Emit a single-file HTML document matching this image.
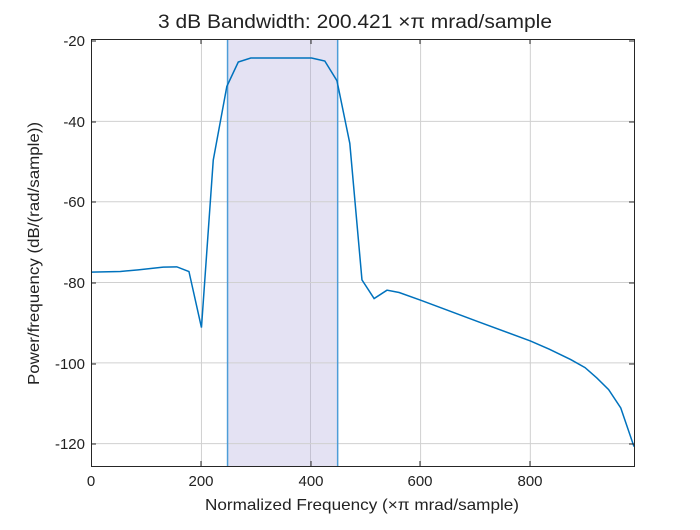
<!DOCTYPE html>
<html><head><style>
body{margin:0;background:#fff;}
svg text{font-family:"Liberation Sans",sans-serif;fill:#222;}
</style></head><body>
<svg width="700" height="525" xmlns="http://www.w3.org/2000/svg">
<rect width="700" height="525" fill="#fff"/>
<svg x="91" y="39" width="543" height="427" viewBox="18 30 1519 1280" preserveAspectRatio="none">
<rect x="400" y="30" width="308" height="1280" fill="#e4e2f3"/>
<g stroke="#d0d0d0" stroke-width="1" vector-effect="non-scaling-stroke">
<line x1="327" y1="30" x2="327" y2="1310" vector-effect="non-scaling-stroke"/>
<line x1="632" y1="30" x2="632" y2="1310" vector-effect="non-scaling-stroke" stroke="#c4c2d2"/>
<line x1="940" y1="30" x2="940" y2="1310" vector-effect="non-scaling-stroke"/>
<line x1="1247" y1="30" x2="1247" y2="1310" vector-effect="non-scaling-stroke"/>
<line x1="18" y1="277" x2="1537" y2="277" vector-effect="non-scaling-stroke"/>
<line x1="18" y1="518" x2="1537" y2="518" vector-effect="non-scaling-stroke"/>
<line x1="18" y1="760" x2="1537" y2="760" vector-effect="non-scaling-stroke"/>
<line x1="18" y1="1001" x2="1537" y2="1001" vector-effect="non-scaling-stroke"/>
<line x1="18" y1="1243" x2="1537" y2="1243" vector-effect="non-scaling-stroke"/>
</g>
<line x1="400" y1="30" x2="400" y2="1310" stroke="#4d9dd8" stroke-width="1.5" vector-effect="non-scaling-stroke"/>
<line x1="708" y1="30" x2="708" y2="1310" stroke="#4d9dd8" stroke-width="1.5" vector-effect="non-scaling-stroke"/>
<polyline fill="none" stroke="#0072bd" stroke-width="1.5" vector-effect="non-scaling-stroke" points="18,729 100,727 150,722 220,714 258,713 292,727 327,895 360,393 398,172 430,99 465,87 635,87 672,96 706,155 742,343 776,752 810,808 846,783 880,790 940,813 1000,837 1100,877 1247,935 1300,960 1360,991 1400,1015 1433,1046 1466,1081 1500,1136 1537,1252"/>
</svg>
<rect x="91.5" y="39.5" width="543" height="427" fill="none" stroke="#262626" stroke-width="1"/>
<g stroke="#262626" stroke-width="1">
<line x1="201" y1="466" x2="201" y2="461"/><line x1="311" y1="466" x2="311" y2="461"/><line x1="420" y1="466" x2="420" y2="461"/><line x1="530" y1="466" x2="530" y2="461"/>
<line x1="201" y1="39" x2="201" y2="44"/><line x1="311" y1="39" x2="311" y2="44"/><line x1="420" y1="39" x2="420" y2="44"/><line x1="530" y1="39" x2="530" y2="44"/>
<line x1="91" y1="41" x2="96" y2="41"/><line x1="91" y1="122" x2="96" y2="122"/><line x1="91" y1="202" x2="96" y2="202"/><line x1="91" y1="283" x2="96" y2="283"/><line x1="91" y1="364" x2="96" y2="364"/><line x1="91" y1="444" x2="96" y2="444"/>
<line x1="634" y1="41" x2="629" y2="41"/><line x1="634" y1="122" x2="629" y2="122"/><line x1="634" y1="202" x2="629" y2="202"/><line x1="634" y1="283" x2="629" y2="283"/><line x1="634" y1="364" x2="629" y2="364"/><line x1="634" y1="444" x2="629" y2="444"/>
</g>
<g font-size="15" text-anchor="middle">
<text x="91" y="486">0</text><text x="201" y="486">200</text><text x="311" y="486">400</text><text x="420" y="486">600</text><text x="530" y="486">800</text>
</g>
<g font-size="15" text-anchor="end">
<text x="85" y="46">-20</text><text x="85" y="127">-40</text><text x="85" y="207">-60</text><text x="85" y="288">-80</text><text x="85" y="369">-100</text><text x="85" y="449">-120</text>
</g>
<text x="205" y="510" font-size="16" textLength="314" lengthAdjust="spacingAndGlyphs">Normalized Frequency  (×π mrad/sample)</text>
<text transform="translate(39,385) rotate(-90)" font-size="16" textLength="263" lengthAdjust="spacingAndGlyphs">Power/frequency (dB/(rad/sample))</text>
<text x="158" y="28" font-size="19" textLength="394" lengthAdjust="spacingAndGlyphs" fill="#000">3 dB Bandwidth: 200.421 ×π mrad/sample</text>
</svg>
</body></html>
